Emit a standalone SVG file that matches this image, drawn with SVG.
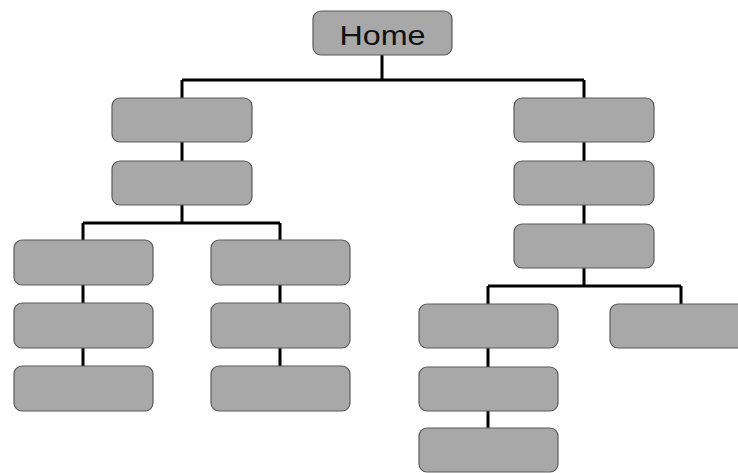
<svg xmlns="http://www.w3.org/2000/svg" width="738" height="473" viewBox="0 0 738 473">
<style>
.n{fill:#a8a8a8;stroke:#5a5a5a;stroke-width:1.2}
.c{fill:none;stroke:#000;stroke-width:3}
.t{font-family:"Liberation Sans",Arial,sans-serif;font-size:28px;fill:#111;text-anchor:middle}
</style>
<rect width="738" height="473" fill="#fff"/>
<g id="connectors">
<path class="c" d="M382 55V80M182 80H584M182 80V98M584 80V98"/>
<path class="c" d="M182 142V161M182 205V223M83 223H280M83 223V240M280 223V240"/>
<path class="c" d="M83 285V303M83 348V366M280 285V303M280 348V366"/>
<path class="c" d="M584 142V161M584 205V224M584 268V286M488 286H681M488 286V304M681 286V304"/>
<path class="c" d="M488 348V367M488 411V428"/>
</g>
<g id="home"><rect class="n" x="313" y="11" width="139" height="44" rx="8"/><text class="t" x="382.5" y="45" textLength="86" lengthAdjust="spacingAndGlyphs">Home</text></g>
<g id="l1"><rect class="n" x="112" y="98" width="140" height="44" rx="8"/></g>
<g id="l2"><rect class="n" x="112" y="161" width="140" height="44" rx="8"/></g>
<g id="ll1"><rect class="n" x="14" y="240" width="139" height="45" rx="8"/></g>
<g id="ll2"><rect class="n" x="14" y="303" width="139" height="45" rx="8"/></g>
<g id="ll3"><rect class="n" x="14" y="366" width="139" height="45" rx="8"/></g>
<g id="lr1"><rect class="n" x="211" y="240" width="139" height="45" rx="8"/></g>
<g id="lr2"><rect class="n" x="211" y="303" width="139" height="45" rx="8"/></g>
<g id="lr3"><rect class="n" x="211" y="366" width="139" height="45" rx="8"/></g>
<g id="r1"><rect class="n" x="514" y="98" width="140" height="44" rx="8"/></g>
<g id="r2"><rect class="n" x="514" y="161" width="140" height="44" rx="8"/></g>
<g id="r3"><rect class="n" x="514" y="224" width="140" height="44" rx="8"/></g>
<g id="rl1"><rect class="n" x="419" y="304" width="139" height="44" rx="8"/></g>
<g id="rl2"><rect class="n" x="419" y="367" width="139" height="44" rx="8"/></g>
<g id="rl3"><rect class="n" x="419" y="428" width="139" height="44" rx="8"/></g>
<g id="rr1"><rect class="n" x="610" y="304" width="140" height="44" rx="8"/></g>
</svg>
